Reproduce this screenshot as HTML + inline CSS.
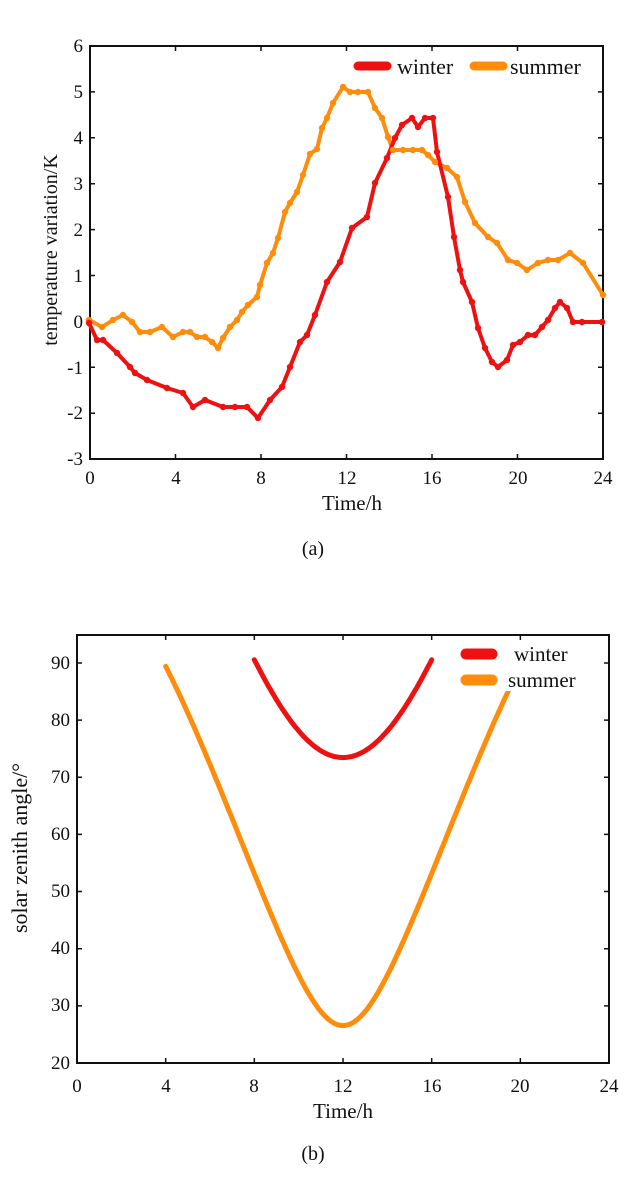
<!DOCTYPE html>
<html><head><meta charset="utf-8"><style>
html,body{margin:0;padding:0;background:#fff;}
svg{display:block;font-family:"Liberation Serif",serif;}
</style></head><body>
<svg id="s" width="625" height="1197" viewBox="0 0 625 1197" xmlns="http://www.w3.org/2000/svg">
<rect width="625" height="1197" fill="#fff"/>
<!-- chart a -->
<g id="a">
<rect x="90" y="46" width="513" height="413" fill="none" stroke="#111" stroke-width="2"/>
<g font-size="19" fill="#111" text-anchor="end">
<text x="83" y="52">6</text><text x="83" y="98">5</text><text x="83" y="144">4</text>
<text x="83" y="190">3</text><text x="83" y="236">2</text><text x="83" y="282">1</text>
<text x="83" y="328">0</text><text x="83" y="374">-1</text><text x="83" y="419">-2</text>
<text x="83" y="465">-3</text>
</g>
<g font-size="19" fill="#111" text-anchor="middle">
<text x="90" y="484">0</text><text x="176" y="484">4</text><text x="261" y="484">8</text>
<text x="347" y="484">12</text><text x="432" y="484">16</text><text x="518" y="484">20</text><text x="603" y="484">24</text>
<text x="352" y="510" font-size="21">Time/h</text>
<text x="313" y="555" font-size="20">(a)</text>
</g>
<text transform="translate(57,250) rotate(-90)" font-size="20" text-anchor="middle" fill="#111">temperature variation/K</text>
<path id="ta" stroke="#111" stroke-width="1.5" fill="none"/>
<polyline fill="none" stroke="#ff8c0a" stroke-width="4" stroke-linejoin="round" points="89,320 102,327 113,320 123,315 132,322 140,332 150,332 162,327 173,337 183,332 190,332 197,337 205,337 212,342 218,348 223,338 230,327 237,320 242,312 248,305 257,297 260,285 267,263 273,253 278,238 285,212 290,203 297,192 303,175 310,154 317,149 322,128 327,118 333,103 343,87 350,92 358,92 368,92 375,108 382,118 388,137 393,150 403,150 413,150 422,150 428,155 435,162 447,168 457,177 465,202 475,223 488,237 497,243 508,260 517,263 527,270 538,263 548,260 558,260 570,253 583,263 603,295"/>
<polyline fill="none" stroke="#ee1111" stroke-width="4" stroke-linejoin="round" points="89,323 97,340 103,340 117,353 130,367 135,373 147,380 167,388 183,393 193,407 205,400 223,407 235,407 247,407 258,418 270,400 282,387 290,367 300,342 307,335 315,315 327,282 340,262 352,228 367,217 375,183 387,158 395,138 402,125 412,118 418,127 425,118 433,118 437,152 448,197 454,237 460,270 463,282 472,302 478,328 485,348 492,362 498,367 507,360 513,345 520,342 528,335 535,335 542,327 548,320 555,308 560,302 567,308 573,322 582,322 602,322"/>
<g id="dots"></g>
<rect x="352" y="52" width="248" height="28" fill="#fff"/>
<line x1="358" y1="66" x2="387" y2="66" stroke="#ee1111" stroke-width="9" stroke-linecap="round"/>
<text x="397" y="74" font-size="22" fill="#111">winter</text>
<line x1="474" y1="66" x2="503" y2="66" stroke="#ff8c0a" stroke-width="9" stroke-linecap="round"/>
<text x="510" y="74" font-size="22" fill="#111">summer</text>
</g>
<!-- chart b -->
<g id="b">
<rect x="77" y="635" width="532" height="428" fill="none" stroke="#111" stroke-width="2"/>
<g font-size="19" fill="#111" text-anchor="end">
<text x="70" y="669">90</text><text x="70" y="726">80</text><text x="70" y="783">70</text>
<text x="70" y="840">60</text><text x="70" y="897">50</text><text x="70" y="954">40</text>
<text x="70" y="1011">30</text><text x="70" y="1069">20</text>
</g>
<g font-size="19" fill="#111" text-anchor="middle">
<text x="77" y="1092">0</text><text x="166" y="1092">4</text><text x="254" y="1092">8</text>
<text x="343" y="1092">12</text><text x="432" y="1092">16</text><text x="520" y="1092">20</text><text x="609" y="1092">24</text>
<text x="343" y="1118" font-size="21">Time/h</text>
<text x="313" y="1160" font-size="20">(b)</text>
</g>
<text transform="translate(27,848) rotate(-90)" font-size="22" text-anchor="middle" fill="#111">solar zenith angle/°</text>
<path id="tb" stroke="#111" stroke-width="1.5" fill="none"/>
<path id="sum" fill="none" stroke="#ff8c0a" stroke-width="5" stroke-linecap="round"/>
<path id="win" fill="none" stroke="#ee1111" stroke-width="5" stroke-linecap="round"/>
<rect x="452" y="641" width="146" height="50" fill="#fff"/>
<line x1="466" y1="654" x2="492" y2="654" stroke="#ee1111" stroke-width="11" stroke-linecap="round"/>
<text x="514" y="661" font-size="21" fill="#111">winter</text>
<line x1="466" y1="680" x2="492" y2="680" stroke="#ff8c0a" stroke-width="11" stroke-linecap="round"/>
<text x="508" y="687" font-size="21" fill="#111">summer</text>
</g>
</svg>
<script>
(function(){
var NS="http://www.w3.org/2000/svg";
// dots for chart a
var pls=document.querySelectorAll('#a polyline'),g=document.getElementById('dots');
pls.forEach(function(pl){var c=pl.getAttribute('stroke');
pl.getAttribute('points').trim().split(/\s+/).forEach(function(p){var xy=p.split(',');
var e=document.createElementNS(NS,'circle');e.setAttribute('cx',xy[0]);e.setAttribute('cy',xy[1]);e.setAttribute('r','3.2');e.setAttribute('fill',c);g.appendChild(e);});});
// ticks a
var d='';
for(var i=0;i<=6;i++){var x=90+i*85.5;d+='M'+x+' 459v-5M'+x+' 46v5';}
for(var j=0;j<=9;j++){var y=46+j*45.9;d+='M90 '+y+'h5M603 '+y+'h-5';}
document.getElementById('ta').setAttribute('d',d);
// ticks b
d='';
for(i=0;i<=6;i++){x=77+i*88.67;d+='M'+x+' 1063v-5M'+x+' 635v5';}
for(j=0;j<=7;j++){y=663+j*57.14;d+='M77 '+y+'h5M609 '+y+'h-5';}
document.getElementById('tb').setAttribute('d',d);
// zenith curves
var R=Math.PI/180,phi=50*R;
function curve(dec,t0,t1){var s='';for(var t=t0;t<=t1+1e-9;t+=0.05){var h=(t-12)*15*R;
var cz=Math.sin(phi)*Math.sin(dec*R)+Math.cos(phi)*Math.cos(dec*R)*Math.cos(h);
var z=Math.acos(Math.max(-1,Math.min(1,cz)))/R;var X=77+t*22.167,Y=663+(90-z)*5.714;
s+=(s?'L':'M')+X.toFixed(1)+' '+Y.toFixed(1);}return s;}
document.getElementById('sum').setAttribute('d',curve(23.45,4.0,20.0));
document.getElementById('win').setAttribute('d',curve(-23.45,8.0,16.0));
})();
</script>
</body></html>
